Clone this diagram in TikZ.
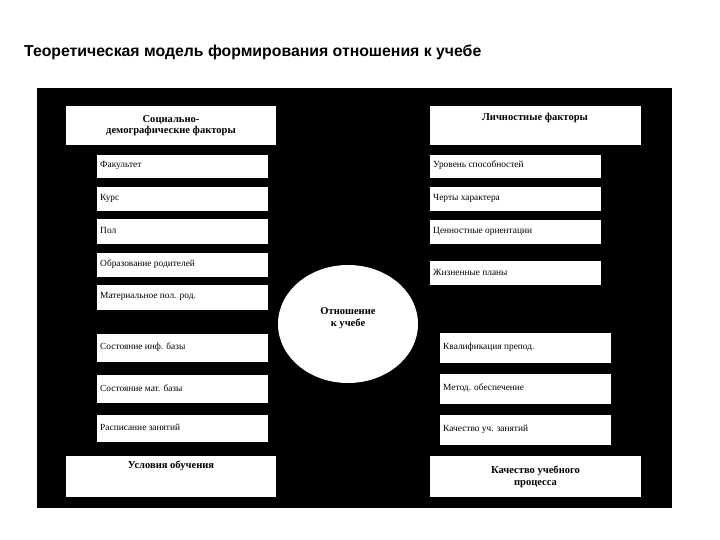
\documentclass[tikz,border=0pt]{standalone}
\usepackage{fontspec}
\setmainfont{Liberation Serif}
\newfontfamily\titlefont{Liberation Sans}
\begin{document}
\begin{tikzpicture}[x=0.03cm,y=-0.03cm,
  item/.style={fill=white,inner sep=0pt,font=\fontsize{8}{9}\selectfont},
  head/.style={fill=white,inner sep=0pt,font=\bfseries\fontsize{9}{10}\selectfont,align=center}]
\useasboundingbox (0,0) rectangle (720,540);
\fill[white] (0,0) rectangle (720,540);
\node[font=\titlefont\bfseries\fontsize{13.5}{15}\selectfont,anchor=west] (title) at (20,52) {Теоретическая модель формирования отношения к учебе};
\fill[black] (37,88) rectangle (672,508);
\newcommand{\bx}[6]{\fill[white] (#2,#3) rectangle (#4,#5); \node[item,anchor=west] (#1) at ({#2+3},{(#3+#5)/2-1}) {#6};}
\newcommand{\hb}[6]{\fill[white] (#2,#3) rectangle (#4,#5); \node[head] (#1) at ({(#2+#4)/2},{(#3+#5)/2}) {#6};}
\hb{h1}{66}{106}{276}{145}{Социально-\\демографические факторы}
\bx{a1}{97}{155}{268}{178}{Факультет}
\bx{a2}{97}{187}{268}{211}{Курс}
\bx{a3}{97}{219}{268}{244}{Пол}
\bx{a4}{97}{253}{268}{277}{Образование родителей}
\bx{a5}{97}{285}{268}{310}{Материальное пол. род.}
\bx{a6}{97}{334}{268}{362}{Состояние инф. базы}
\bx{a7}{97}{375}{268}{403}{Состояние мат. базы}
\bx{a8}{97}{415}{268}{442}{Расписание занятий}
\fill[white] (66,456) rectangle (276,497);
\node[head] (h3) at (171,466) {Условия обучения};
\fill[white] (430,106) rectangle (641,145);
\node[head] (h2) at (535,118) {Личностные факторы};
\bx{b1}{430}{155}{601}{178}{Уровень способностей}
\bx{b2}{430}{187}{601}{211}{Черты характера}
\bx{b3}{430}{220}{601}{244}{Ценностные ориентации}
\bx{b4}{430}{261}{601}{285}{Жизненные планы}
\bx{b5}{440}{333}{611}{363}{Квалификация препод.}
\bx{b6}{440}{374}{611}{404}{Метод. обеспечение}
\bx{b7}{440}{415}{611}{445}{Качество уч. занятий}
\hb{h4}{430}{456}{641}{497}{Качество учебного\\процесса}
\fill[white] (348,324) ellipse [x radius=70, y radius=59];
\node[head,fill=none] (c) at (348,318) {Отношение\\к учебе};
\end{tikzpicture}
\end{document}
